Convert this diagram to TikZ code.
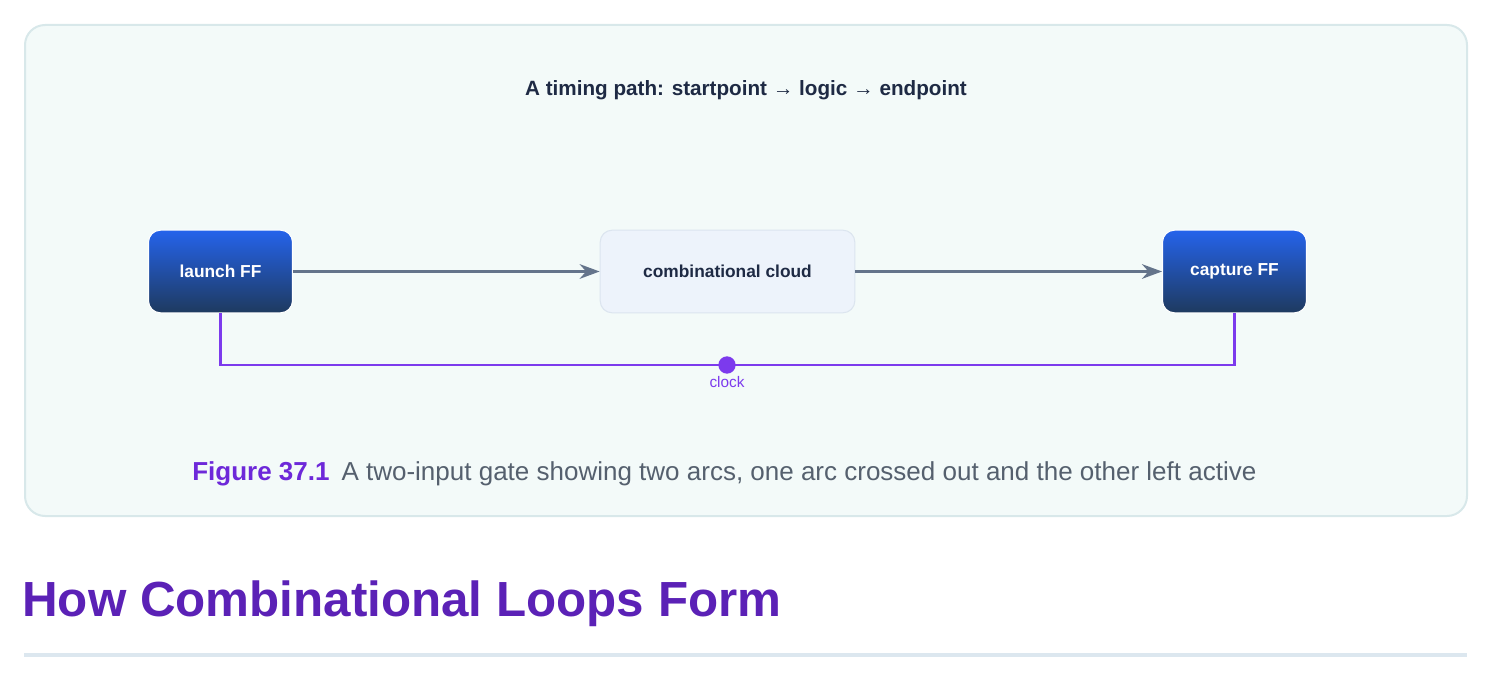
\documentclass[tikz,border=0pt]{standalone}
\usepackage{fontspec}
\setmainfont{Liberation Sans}
\usetikzlibrary{arrows.meta,positioning}
\definecolor{panelfill}{HTML}{F3FAF9}
\definecolor{panelline}{HTML}{D8E8EA}
\definecolor{fftop}{HTML}{2563EB}
\definecolor{ffbot}{HTML}{1E3A5F}
\definecolor{cloudfill}{HTML}{EDF3FB}
\definecolor{cloudline}{HTML}{DCE5EF}
\definecolor{wire}{HTML}{64748B}
\definecolor{clk}{HTML}{7C3AED}
\definecolor{titletext}{HTML}{1E2A44}
\definecolor{figpurple}{HTML}{6D28D9}
\definecolor{captext}{HTML}{55606E}
\definecolor{headpurple}{HTML}{5B21B6}
\definecolor{rulecol}{HTML}{DCE7EF}
\tikzset{
  ff/.style={rounded corners=9pt, draw=white, line width=0.8pt, top color=fftop, bottom color=ffbot,
    minimum width=108pt, minimum height=62pt, text=white, font=\fontsize{13}{15}\selectfont\bfseries},
  cloud/.style={rounded corners=9pt, draw=cloudline, line width=0.8pt, fill=cloudfill,
    minimum width=191pt, minimum height=62pt, text=titletext, font=\fontsize{13}{15}\selectfont\bfseries},
  flow/.style={draw=wire, line width=2pt, -{Stealth[length=15pt,width=11pt]}},
  clock/.style={draw=clk, line width=2pt}
}
\begin{document}
\begin{tikzpicture}[x=0.75pt,y=-0.75pt]
	\useasboundingbox (0,0) rectangle (1494,684);
	% Rahmen
	\draw [panelline, fill=panelfill, line width=1.5pt, rounded corners=15pt] (25,25) rectangle (1467,516);
	\node [text=titletext, font=\fontsize{15.5}{18}\selectfont\bfseries] (title) at (746,90) {A timing path: startpoint → logic → endpoint};
	% Knoten
	\node [ff] (launch) at (220.5,271.5) {launch FF};
	\node [cloud] (comb) at (727.5,271.5) {combinational cloud};
	\node [ff] (capture) at (1234.5,271.5) {capture FF};
	% Pfeile
	\draw [flow] (launch) -- (comb);
	\draw [flow] (comb) -- (capture);
	% Takt
	\coordinate (tap) at (727,365);
	\draw [clock] (launch.south) |- (tap) -| (capture.south);
	\fill [clk] (tap) circle (6.5pt);
	\node [text=clk, font=\fontsize{11.5}{14}\selectfont, below=5pt of tap] (clklabel) {clock};
	% Bildunterschrift
	\node [anchor=west, font=\fontsize{19.5}{23}\selectfont, inner sep=0pt] (caption) at (192,474)
	  {\textcolor{figpurple}{\bfseries Figure 37.1}\hspace{9pt}\textcolor{captext}{A two-input gate showing two arcs, one arc crossed out and the other left active}};
	% Ueberschrift
	\node [anchor=west, text=headpurple, font=\fontsize{37}{44}\selectfont\bfseries, inner sep=0pt] (heading) at (22,604) {How Combinational Loops Form};
	\draw [rulecol, line width=3pt] (24,655) -- (1467,655);
\end{tikzpicture}
\end{document}
